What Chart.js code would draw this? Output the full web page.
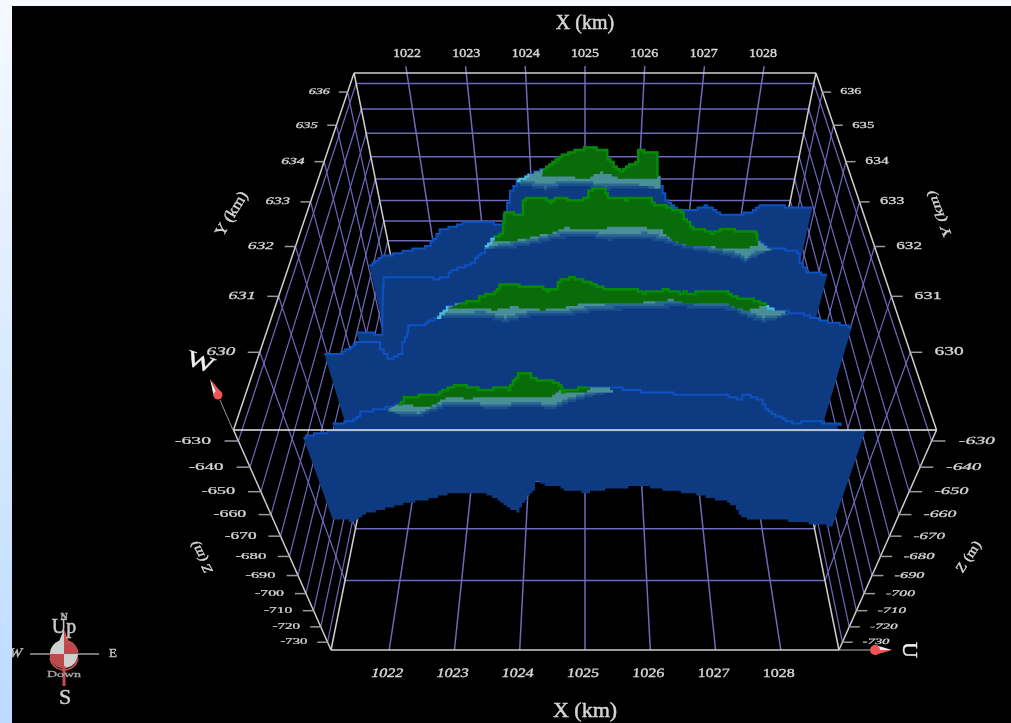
<!DOCTYPE html>
<html>
<head>
<meta charset="utf-8">
<title>Sections</title>
<script src="https://cdn.jsdelivr.net/npm/chart.js@4"></script>
<style>
  html, body { margin: 0; height: 100%; overflow: hidden; background: linear-gradient(#f6f9ff, #bcdbff); }
  #grafico { position: absolute; left: 12px; top: 6px; background: #000; }
</style>
</head>
<body>
<canvas id="grafico" width="999" height="717"></canvas>
<script>
// axis ticks
const xTicks = [1022, 1023, 1024, 1025, 1026, 1027, 1028];
const yTicks = [630, 631, 632, 633, 634, 635, 636];
const zTicks = [-630, -640, -650, -660, -670, -680, -690, -700, -710, -720, -730];
const xRange = [1021.11, 1028.89];
const yRange = [628.79, 636.62];
const zRange = [-626, -735.3];

// section A (front)
const yA = 628.8;
const kmA = [1021.85, 1021.98, 1022.14, 1022.34, 1025, 1027.94, 1028.11];
const topA = [-628.9, -627.8, -626.8, -626.4, -626.2, -626.2, -626.4];
const floorKmA = [1028.12, 1027.69, 1026.98, 1026.85, 1026.73, 1026.54, 1026.30, 1026.00, 1025.74, 1025.48, 1025.28, 1025.06, 1024.82, 1024.67, 1024.55, 1024.46, 1024.40, 1024.30, 1024.19, 1024.08, 1023.97, 1023.78, 1023.46, 1023.26, 1023.06, 1022.89, 1022.74, 1022.54, 1022.33, 1022.23, 1022.12, 1021.85];
const floorA = [-665.7, -663.4, -661.9, -656.6, -654, -653.2, -651, -649.8, -648, -648.5, -649.3, -650.6, -650.2, -647.6, -648, -646, -650.2, -653.6, -659.3, -657, -653.6, -650.6, -650.6, -652.3, -654, -654.9, -656.2, -657.9, -659.8, -661, -663.4, -662.4];

// section B
const yB = 629.55;
const kmB = [1021.90, 1022.13, 1022.28, 1022.52, 1022.76, 1022.85, 1023.21, 1023.39, 1023.54, 1023.65, 1023.81, 1024.04, 1024.09, 1024.23, 1024.34, 1024.37, 1024.50, 1024.63, 1024.72, 1024.73, 1024.82, 1025.02, 1025.26, 1025.41, 1025.80, 1026.51, 1026.63, 1026.84, 1026.86, 1027.08, 1027.22, 1027.36, 1027.54, 1027.75, 1028.14];
const topB = [-642.8, -641.4, -638.1, -636.6, -635.2, -632.2, -631.5, -628.9, -627.8, -628.9, -629.6, -628.5, -629.6, -623.5, -623.5, -625.7, -626, -626.7, -628.5, -630.3, -629.6, -628.5, -628.5, -629.2, -630.7, -631.5, -631.5, -633.3, -631.1, -633.3, -638.1, -640, -642.2, -641.4, -643];
const greenKmB = [1022.76, 1023.01, 1023.16, 1023.27, 1023.41, 1023.63, 1023.88, 1024.11, 1024.47, 1024.61, 1024.73, 1024.82, 1025.06];
const greenB = [-635.2, -635.5, -635.9, -634, -632.2, -632.9, -632.2, -632.6, -632.6, -632.2, -630, -630.7, -630];
const tealKmB = [1022.62, 1022.78, 1023.00, 1023.18, 1023.36, 1023.71, 1023.90, 1024.26, 1024.66, 1024.86, 1025.06, 1025.33];
const tealB = [-637, -639.6, -640, -637.7, -635.9, -635.9, -637, -635.9, -636.6, -634, -632.2, -630.3];

// section C
const yC = 630.0;
const kmC = [1021.88, 1022.06, 1022.18, 1022.29, 1022.55, 1022.56, 1022.62, 1022.70, 1022.76, 1022.84, 1022.92, 1022.95, 1023.12, 1023.30, 1023.43, 1023.59, 1023.79, 1023.81, 1023.99, 1024.05, 1024.20, 1024.27, 1024.46, 1024.57, 1024.69, 1024.70, 1024.83, 1024.98, 1025.13, 1025.28, 1025.56, 1025.65, 1025.90, 1026.06, 1026.10, 1026.14, 1026.27, 1026.57, 1026.72, 1026.94, 1027.05, 1027.15, 1027.44, 1027.59, 1027.88, 1028.10];
const topC = [-626.2, -626.2, -624.8, -622.8, -622.5, -624.5, -628.2, -627.8, -626.2, -622.5, -619.1, -616.8, -616.4, -614.1, -610.7, -609.4, -609.1, -607.4, -606.1, -604.1, -603.4, -604.4, -604.4, -605.7, -605.1, -602.7, -601.7, -602.7, -604.4, -605.4, -605.4, -606.4, -605.4, -606.4, -605.7, -606.7, -606.1, -606.1, -608.1, -608.8, -610.4, -611.8, -612.8, -614.1, -616.1, -617.4];
const greenKmC = [1023.44, 1023.80, 1024.00, 1024.18, 1024.41, 1024.52, 1024.75, 1024.98, 1025.23, 1025.66, 1026.00, 1026.13, 1026.60, 1026.73, 1026.88, 1027.05];
const greenC = [-611.1, -611.1, -611.8, -610.7, -611.1, -611.8, -611.1, -609.8, -609.4, -609.4, -608.4, -609.4, -609.4, -611.1, -611.8, -610.4];
const tealKmC = [1023.30, 1023.53, 1023.87, 1024.10, 1024.40, 1024.75, 1025.06, 1025.29, 1025.63, 1026.09, 1026.70, 1026.86, 1027.07, 1027.21, 1027.36];
const tealC = [-613.7, -614.4, -614.1, -615.8, -613.8, -613.8, -612.4, -611.8, -611.4, -610.7, -611.8, -613.8, -615.8, -615.1, -612.8];

// section D
const yD = 631.33;
const kmD = [1021.87, 1022.18, 1022.28, 1022.37, 1022.40, 1022.92, 1023.04, 1023.20, 1023.25, 1023.40, 1023.58, 1023.61, 1023.72, 1023.75, 1023.88, 1023.98, 1024.00, 1024.03, 1024.21, 1024.26, 1024.46, 1024.58, 1024.64, 1024.90, 1025.02, 1025.04, 1025.09, 1025.21, 1025.27, 1025.45, 1025.48, 1025.57, 1025.75, 1025.80, 1025.94, 1026.05, 1026.19, 1026.20, 1026.28, 1026.29, 1026.44, 1026.55, 1026.66, 1026.99, 1027.11, 1027.14, 1027.28, 1027.44, 1027.67, 1027.73, 1027.84, 1028.12];
const topD = [-645.5, -646.7, -638.5, -628.2, -625.2, -625.2, -625.9, -625.2, -623.5, -621.9, -620.2, -618.5, -616.8, -614.5, -611.8, -610.4, -607.1, -603.7, -605, -600, -599.4, -601, -599.4, -600.4, -599.4, -597.7, -596.7, -596.7, -599.4, -599.4, -600, -599.4, -599.4, -601.4, -601.7, -603.1, -604.1, -606.1, -607.1, -608.8, -609.4, -610.4, -609.4, -609.8, -610.4, -612.8, -615.5, -615.5, -616.8, -620.5, -623.2, -624.5];
const greenKmD = [1023.88, 1024.16, 1024.32, 1024.60, 1024.78, 1025.06, 1025.34, 1025.76, 1025.96, 1026.05, 1026.19, 1026.41, 1026.78, 1027.03, 1027.16];
const greenD = [-613.5, -612.8, -612.1, -610.4, -608.8, -609.1, -608.8, -608.8, -609.4, -611.8, -613.8, -614.8, -615.2, -615.5, -614.5];
const tealKmD = [1023.75, 1024.03, 1024.31, 1024.69, 1025.06, 1025.31, 1025.77, 1026.06, 1026.28, 1026.58, 1026.92, 1027.06, 1027.21, 1027.38];
const tealD = [-615.5, -615.5, -614.5, -612.1, -611.5, -612.8, -612.1, -613.8, -615.5, -616.8, -618.5, -620.2, -617.8, -615.8];

// section E (back)
const yE = 632.56;
const kmE = [1021.88, 1022.08, 1022.25, 1022.54, 1022.77, 1022.86, 1022.97, 1023.22, 1023.30, 1023.65, 1023.82, 1023.94, 1023.99, 1024.09, 1024.25, 1024.45, 1024.70, 1025.03, 1025.23, 1025.29, 1025.46, 1025.66, 1025.69, 1025.88, 1025.96, 1026.09, 1026.26, 1026.58, 1026.63, 1026.75, 1026.86, 1027.10, 1027.30, 1027.38, 1027.65, 1027.77, 1028.11];
const topE = [-642, -639, -638.2, -636.3, -635.2, -632.2, -629.1, -627.6, -626.8, -626.5, -627.6, -619.8, -616, -612.6, -610.2, -608.5, -604, -601.6, -602.6, -605.7, -609.1, -606, -602.6, -603.3, -611.2, -618.8, -622.3, -621.6, -620.5, -622.3, -624, -624, -622.3, -620.5, -620.5, -621.6, -621.6];
const greenKmE = [1024.43, 1024.67, 1025.07, 1025.24, 1025.47, 1025.96];
const greenE = [-610.5, -611, -611.4, -609.5, -611.4, -611.4];
const tealKmE = [1024.09, 1024.13, 1024.49, 1024.76, 1025.07, 1025.30, 1025.56, 1026.01];
const tealE = [-613, -613.6, -615.4, -614, -614.3, -615.4, -614.7, -614.7];

const colores = {
    fondo: "#0e3a82", borde: "#0c52c2", verde: "#0a6b0a", verdeBorde: "#078a07",
    teal: ["#1a4f8c", "#2a6a92", "#4a8f97"], cian: "#48bfe0",
    rejilla: "#6d69bb", marco: "#cfcfcf", texto: "#d6d6d6"
};

// perspective of the box, fitted on its corners
function proyectar(km, y, z) {
    const X = (km - 1025) / ((xRange[1] - xRange[0]) / 2);
    const v = (y - yRange[0]) / (yRange[1] - yRange[0]);
    const u = (z - zRange[0]) / (zRange[1] - zRange[0]);
    const w = 1 + 0.522 * v + 0.384 * u;
    return { x: 585 + 351.5 * X / w, y: (430 - 318.9 * v + 469.6 * u) / w, w: w };
}

const datasets = [];
function linea(puntos, color, ancho) {
    datasets.push({ data: puntos, showLine: true, borderColor: color, borderWidth: ancho, pointRadius: 0, clip: false });
}
function poligono(puntos, color) {
    datasets.push({ data: puntos, showLine: false, relleno: color, pointRadius: 0, clip: false });
}
function escalon(puntos, color, ancho) {
    datasets.push({ data: puntos, showLine: false, trazo: color, ancho: ancho, pointRadius: 0, clip: false });
}

// grid of the back wall, floor and side walls
const [x0, x1] = xRange, [y0, y1] = yRange, [zA, zB] = zRange;
xTicks.forEach(t => {
    linea([proyectar(t, y1, -623.4), proyectar(t, y1, zB)], colores.rejilla, 1.5);
    linea([proyectar(t, y1, zB), proyectar(t, y0, zB)], colores.rejilla, 1.5);
});
zTicks.forEach(t => {
    linea([proyectar(x0, y1, t), proyectar(x1, y1, t)], colores.rejilla, 1.5);
    [x0, x1].forEach(lado => linea([proyectar(lado, y0, t), proyectar(lado, y1, t)], colores.rejilla, 1.2));
});
yTicks.forEach(t => {
    linea([proyectar(x0, t, zB), proyectar(x1, t, zB)], colores.rejilla, 1.5);
    [x0, x1].forEach(lado => linea([proyectar(lado, t, zA), proyectar(lado, t, zB)], colores.rejilla, 1.2));
});

// box edges behind the sections
[[x0, y1, zA, x1, y1, zA], [x0, y1, zA, x0, y1, zB], [x1, y1, zA, x1, y1, zB], [x0, y0, zA, x0, y1, zA], [x1, y0, zA, x1, y1, zA],
 [x0, y0, zB, x0, y1, zB], [x1, y0, zB, x1, y1, zB], [x0, y0, zA, x0, y0, zB], [x1, y0, zA, x1, y0, zB], [x0, y0, zB, x1, y0, zB]]
    .forEach(e => linea([proyectar(e[0], e[1], e[2]), proyectar(e[3], e[4], e[5])], colores.marco, 1.5));

function dibujarSeccion(y, km, top, fondoKm, fondo, greenKm, green, tealKm, teal) {
    const perfil = km.map((k, i) => proyectar(k, y, top[i]));
    const base = fondoKm.map((k, i) => proyectar(k, y, fondo[i]));
    poligono(perfil.concat(base), colores.fondo);
    escalon(perfil, colores.borde, 2);
    const tramo = (a, b) => km.map((k, i) => [k, top[i]]).filter(p => p[0] >= a && p[0] <= b).map(p => proyectar(p[0], y, p[1]));
    if (!greenKm) return;
    const tA = tealKm[0], tB = tealKm[tealKm.length - 1], gA = greenKm[0], gB = greenKm[greenKm.length - 1];
    [0, 0.9, 1.8].forEach((sube, n) => {
        const abajo = tealKm.map((k, i) => {
            const extremo = i === 0 || i === tealKm.length - 1;
            return proyectar(k, y, teal[i] + (extremo ? 0 : sube));
        }).reverse();
        poligono(tramo(tA, tB).concat(abajo), colores.teal[n]);
    });
    escalon(tramo(tA, gA), colores.cian, 2);
    escalon(tramo(gB, tB), colores.cian, 2);
    const abajoVerde = greenKm.map((k, i) => proyectar(k, y, green[i])).reverse();
    poligono(tramo(gA, gB).concat(abajoVerde), colores.verde);
    escalon(tramo(gA, gB), colores.verdeBorde, 2.5);
}

const finE = [kmE[kmE.length - 1], kmE[0]], finD = [kmD[kmD.length - 1], kmD[0]];
const finC = [kmC[kmC.length - 1], kmC[0]], finB = [kmB[kmB.length - 1], kmB[0]];
dibujarSeccion(yE, kmE, topE, finE, [-680, -680], greenKmE, greenE, tealKmE, tealE);
dibujarSeccion(yD, kmD, topD, finD, [-670, -670], greenKmD, greenD, tealKmD, tealD);
dibujarSeccion(yC, kmC, topC, finC, [-665, -665], greenKmC, greenC, tealKmC, tealC);
dibujarSeccion(yB, kmB, topB, finB, [-650, -650], greenKmB, greenB, tealKmB, tealB);
dibujarSeccion(yA, kmA, topA, floorKmA, floorA);

// front top edge goes over the sections
linea([proyectar(x0, y0, zA), proyectar(x1, y0, zA)], "#e8e8e8", 1.5);

datasets.forEach((d, i) => { d.order = -i; });

// the sections are blocky, so walk their edges on a coarse pixel grid (long side edges stay straight)
function caminar(ctx, pts) {
    const celda = 3, fila = 2.4;
    let py = Math.round(pts[0].y / fila) * fila;
    ctx.moveTo(pts[0].x, py);
    for (let i = 1; i < pts.length; i++) {
        const a = pts[i - 1], b = pts[i];
        if (Math.abs(b.y - a.y) > 25) {
            ctx.lineTo(b.x, b.y);
            py = b.y;
            continue;
        }
        const n = Math.max(1, Math.round(Math.abs(b.x - a.x) / celda));
        for (let j = 1; j <= n; j++) {
            const nx = a.x + (b.x - a.x) * j / n;
            const ny = Math.round((a.y + (b.y - a.y) * j / n) / fila) * fila;
            ctx.lineTo(nx, py);
            ctx.lineTo(nx, ny);
            py = ny;
        }
    }
}

const pluginPoligonos = {
    id: "poligonos",
    beforeDatasetDraw(chart, args) {
        const ds = chart.data.datasets[args.index];
        if (!ds.relleno && !ds.trazo) return;
        const pts = args.meta.data;
        if (pts.length < 2) return;
        const ctx = chart.ctx;
        ctx.save();
        ctx.beginPath();
        caminar(ctx, pts);
        if (ds.relleno) {
            ctx.closePath();
            ctx.fillStyle = ds.relleno;
            ctx.fill();
        } else {
            ctx.strokeStyle = ds.trazo;
            ctx.lineWidth = ds.ancho;
            ctx.stroke();
        }
        ctx.restore();
    }
};

function texto(ctx, s, x, y, size, o) {
    o = o || {};
    ctx.save();
    ctx.translate(x, y);
    if (o.rot) ctx.rotate(o.rot);
    if (o.ejes) ctx.transform(o.ejes[0], o.ejes[1], o.ejes[2], o.ejes[3], 0, 0);
    ctx.transform(1, 0, o.skew || 0, 1, 0, 0);
    ctx.scale(o.sx || 1, o.sy || 1);
    ctx.font = (o.bold ? "bold " : "") + size + 'px "Liberation Serif"';
    ctx.textAlign = "center";
    ctx.textBaseline = "middle";
    ctx.fillStyle = o.color || colores.texto;
    ctx.strokeStyle = o.color || colores.texto;
    ctx.lineWidth = 0.45;
    ctx.fillText(s, 0, 0);
    ctx.strokeText(s, 0, 0);
    ctx.restore();
}

const pluginTextos = {
    id: "textos",
    afterDatasetsDraw(chart) {
        const ctx = chart.ctx;
        const sx = v => chart.scales.x.getPixelForValue(v), sy = v => chart.scales.y.getPixelForValue(v);
        const raya = (a, b, c, d, color, ancho) => {
            ctx.strokeStyle = color || "#9a9a9a"; ctx.lineWidth = ancho || 1.5;
            ctx.beginPath(); ctx.moveTo(sx(a), sy(b)); ctx.lineTo(sx(c), sy(d)); ctx.stroke();
        };

        // tick labels
        xTicks.forEach(t => {
            const arriba = proyectar(t, y1, zA), abajo = proyectar(t, y0, zB);
            texto(ctx, String(t), sx(arriba.x), sy(54), 14, { sy: 0.85 });
            const f = (1028 - t) / 6;
            texto(ctx, String(t), sx(abajo.x - 2), sy(674), 16, { sy: 0.8, skew: -0.28 * f });
        });
        yTicks.forEach(t => {
            const izq = proyectar(x0, t, zA), der = proyectar(x1, t, zA);
            raya(izq.x - 13 / izq.w, izq.y, izq.x, izq.y);
            raya(der.x, der.y, der.x + 13 / der.w, der.y);
            texto(ctx, String(t), sx(izq.x - 42 / izq.w), sy(izq.y), 21 / izq.w, { sy: 0.6, skew: -0.3 });
            texto(ctx, String(t), sx(der.x + 42 / der.w), sy(der.y), 21 / der.w, { sy: 0.6 });
        });
        zTicks.forEach(t => {
            const izq = proyectar(x0, y0, t), der = proyectar(x1, y0, t);
            raya(izq.x - 14 / izq.w, izq.y, izq.x, izq.y);
            raya(der.x, der.y, der.x + 14 / der.w, der.y);
            texto(ctx, String(t), sx(izq.x - 46 / izq.w), sy(izq.y), 20 / izq.w, { sy: 0.55 });
            texto(ctx, String(t), sx(der.x + 46 / der.w), sy(der.y), 20 / der.w, { sy: 0.55, skew: -0.3 });
        });

        // axis titles
        texto(ctx, "X (km)", sx(585), sy(24), 20);
        texto(ctx, "X (km)", sx(585), sy(711), 22);
        texto(ctx, "Y (km)", sx(232), sy(214), 17, { rot: -59 * Math.PI / 180, sy: 0.9 });
        texto(ctx, "Y (km)", sx(940), sy(214), 17, { ejes: [-0.37, -0.93, 0.85, -0.1], sy: 0.9 });
        texto(ctx, "Z (m)", sx(202), sy(557), 15, { ejes: [-0.46, -0.89, 0.95, -0.25], sy: 0.9 });
        texto(ctx, "Z (m)", sx(969), sy(557), 15, { rot: -57 * Math.PI / 180, sy: 0.9 });

        // W and U pointers
        raya(220, 400, 233, 430, "#9a9a9a", 1);
        cono(ctx, sx(210), sy(379), sx(214), sy(397), sx(222), sy(393));
        texto(ctx, "W", sx(200), sy(363), 30, { rot: 0.35, color: "#f2f2f2", sy: 0.75 });
        raya(838, 650, 875, 650, "#bbbbbb", 1);
        cono(ctx, sx(892), sy(650), sx(875), sy(645), sx(875), sy(655));
        texto(ctx, "U", sx(909), sy(650), 22, { rot: Math.PI / 2, color: "#eeeeee" });

        // compass
        raya(30, 654, 99, 654, "#9c9c9c", 1.5);
        const cx = sx(64), cy = sy(654), r = 14;
        ctx.fillStyle = "#d0d0d0"; ctx.beginPath(); ctx.arc(cx, cy, r, 0, Math.PI * 2); ctx.fill();
        ctx.fillStyle = "#bd4a4a";
        ctx.beginPath(); ctx.moveTo(cx, cy); ctx.arc(cx, cy, r, -Math.PI / 2, 0); ctx.closePath(); ctx.fill();
        ctx.beginPath(); ctx.moveTo(cx, cy); ctx.arc(cx, cy, r, Math.PI / 2, Math.PI); ctx.closePath(); ctx.fill();
        ctx.strokeStyle = "#bd4a4a"; ctx.lineWidth = 2;
        ctx.beginPath(); ctx.arc(cx, cy + 2, r, 0.15, Math.PI - 0.15); ctx.stroke();
        ctx.fillStyle = "#c94b4b";
        ctx.beginPath(); ctx.moveTo(cx, sy(629)); ctx.lineTo(sx(70), sy(644)); ctx.lineTo(cx, sy(644)); ctx.fill();
        ctx.fillStyle = "#cfcfcf";
        ctx.beginPath(); ctx.moveTo(cx, sy(629)); ctx.lineTo(sx(58), sy(644)); ctx.lineTo(cx, sy(644)); ctx.fill();
        raya(64, 666, 64, 686, "#c94b4b", 3);
        texto(ctx, "N", cx, sy(617), 10, { bold: true, color: "#aaaaaa" });
        texto(ctx, "Up", cx, sy(628), 20, { color: "#c8c8c8" });
        texto(ctx, "W", sx(16), cy, 13, { skew: -0.25, color: "#bdbdbd" });
        texto(ctx, "E", sx(113), cy, 13, { color: "#bdbdbd" });
        texto(ctx, "Down", cx, sy(675), 14, { sy: 0.65, color: "#a8a8a8" });
        texto(ctx, "S", sx(65), sy(698), 22, { color: "#cfcfcf" });
    }
};

function cono(ctx, tx, ty, ax, ay, bx, by) {
    const mx = (ax + bx) / 2, my = (ay + by) / 2;
    ctx.fillStyle = "#f0f0f0";
    ctx.beginPath(); ctx.moveTo(tx, ty); ctx.lineTo(ax, ay); ctx.lineTo(mx, my); ctx.fill();
    ctx.fillStyle = "#ee5555";
    ctx.beginPath(); ctx.moveTo(tx, ty); ctx.lineTo(mx, my); ctx.lineTo(bx, by); ctx.fill();
    ctx.beginPath(); ctx.arc(mx, my, Math.hypot(ax - bx, ay - by) / 2, 0, Math.PI * 2); ctx.fill();
}

new Chart(document.getElementById("grafico"), {
    type: "scatter",
    data: { datasets: datasets },
    options: {
        responsive: false,
        animation: false,
        events: [],
        layout: { padding: 0 },
        plugins: { legend: { display: false }, tooltip: { enabled: false } },
        scales: {
            x: { type: "linear", min: 12, max: 1011, display: false },
            y: { type: "linear", min: 6, max: 723, reverse: true, display: false }
        }
    },
    plugins: [pluginPoligonos, pluginTextos]
});
</script>
</body>
</html>
